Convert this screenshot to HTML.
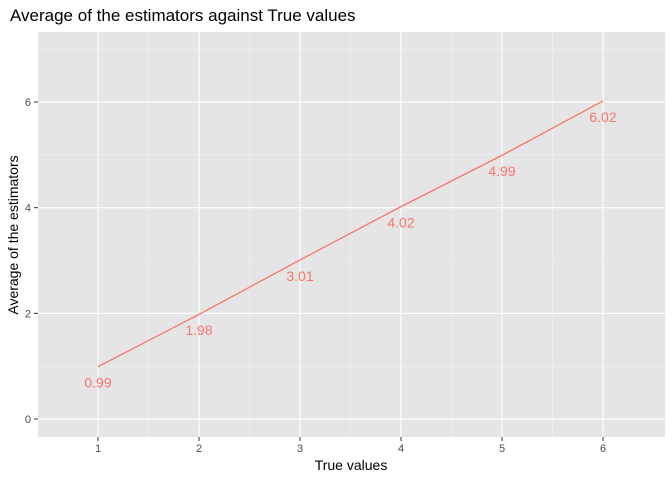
<!DOCTYPE html>
<html><head><meta charset="utf-8"><style>body{margin:0;background:#fff}svg{display:block;font-family:"Liberation Sans",sans-serif}</style></head>
<body>
<svg id="chart" width="672" height="480">
<text x="10" y="21" font-size="17" fill="#000">Average of the estimators against True values</text>
<rect x="38" y="32" width="627" height="405" fill="#e5e5e5"/>
<g id="grid"></g><g id="marks"></g><g id="axes"></g>
<text x="351" y="470" font-size="14" text-anchor="middle" fill="#000">True values</text>
<text transform="translate(18,235) rotate(-90)" font-size="14" text-anchor="middle" fill="#000">Average of the estimators</text>
</svg>
<script>
const trueValues=[1,2,3,4,5,6];
const estimates=[0.99,1.98,3.01,4.02,4.99,6.02];
const labels=["0.99","1.98","3.01","4.02","4.99","6.02"];
const xTicks=[1,2,3,4,5,6];
const yTicks=[0,2,4,6];
const NS="http://www.w3.org/2000/svg";
const X=v=>98+(v-1)*101;
const Y=v=>419-v*52.83;
function mk(p,t,a){const e=document.createElementNS(NS,t);for(const k in a)e.setAttribute(k,a[k]);p.appendChild(e);return e;}
const g=document.getElementById('grid'),m=document.getElementById('marks'),ax=document.getElementById('axes');
[1,3,5,7].forEach(v=>{const l=mk(g,'line',{x1:38,x2:665,y1:Y(v),y2:Y(v),stroke:'#f2f2f2','stroke-width':0.6});

});
[1.5,2.5,3.5,4.5,5.5].forEach(v=>{const l=mk(g,'line',{x1:X(v),x2:X(v),y1:32,y2:437,stroke:'#f2f2f2','stroke-width':0.6});

});
yTicks.forEach(v=>{const l=mk(g,'line',{x1:38,x2:665,y1:Y(v),y2:Y(v),stroke:'#fff','stroke-width':1.2});


const t=mk(ax,'text',{x:31,y:Y(v)+4,'font-size':11,'text-anchor':'end',fill:'#4d4d4d'});t.textContent=v;


const k=mk(ax,'line',{x1:34,x2:38,y1:Y(v),y2:Y(v),stroke:'#333'});

});
xTicks.forEach(v=>{const l=mk(g,'line',{x1:X(v),x2:X(v),y1:32,y2:437,stroke:'#fff','stroke-width':1.2});


const t=mk(ax,'text',{x:X(v),y:452,'font-size':11,'text-anchor':'middle',fill:'#4d4d4d'});t.textContent=v;


const k=mk(ax,'line',{x1:X(v),x2:X(v),y1:437,y2:441,stroke:'#333'});

});
const p=mk(m,'polyline',{points:trueValues.map((v,i)=>X(v)+','+Y(estimates[i])).join(' '),fill:'none',stroke:'#f8766d','stroke-width':1.3});


trueValues.forEach((v,i)=>{const t=mk(m,'text',{x:X(v),y:Y(estimates[i]-0.3)+5,'font-size':14,'text-anchor':'middle',fill:'#f8766d'});t.textContent=labels[i];

});
</script>
</body></html>
